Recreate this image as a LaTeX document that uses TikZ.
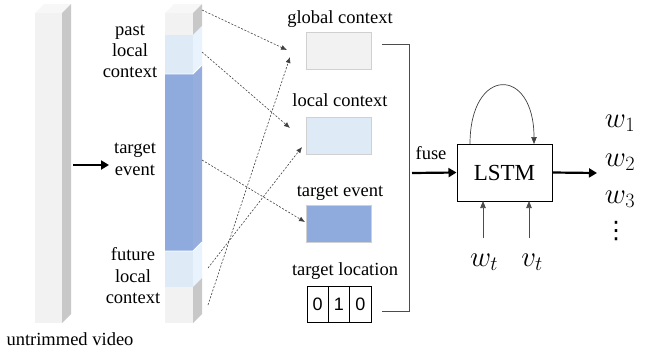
\RequirePackage{fix-cm}
\documentclass[tikz,border=0pt]{standalone}
\usepackage{fontspec}
\setmainfont{Liberation Serif}
\newfontfamily\serifface{Liberation Serif}
\newfontfamily\digitfont{Liberation Sans}
\newfontfamily\symbface{DejaVu Sans}
\usetikzlibrary{arrows.meta}
\definecolor{gfront}{HTML}{F2F2F2}
\definecolor{gtop}{HTML}{F7F7F7}
\definecolor{gside}{HTML}{C8C8C8}
\definecolor{lbfront}{HTML}{DEEBF7}
\definecolor{lbside}{HTML}{E9F3FD}
\definecolor{dbfront}{HTML}{8FAADC}
\definecolor{dbside}{HTML}{95AEDD}
\definecolor{edgegray}{HTML}{D0D0D0}
\tikzset{
  lbl/.style={font=\serifface\fontsize{18.5}{21}\selectfont, inner sep=0pt, anchor=base},
  featbox/.style={draw=edgegray, line width=0.4pt, minimum width=65pt, minimum height=37pt, inner sep=0pt},
  cell/.style={draw=black, line width=0.8pt, minimum width=21.33pt, minimum height=36pt, inner sep=0pt, font=\digitfont\fontsize{18}{21}\selectfont},
  dotarrow/.style={draw=black!75, line width=0.6pt, dash pattern=on 2pt off 1.6pt, -{Latex[length=6pt,width=5pt]}},
  thickarrow/.style={draw=black, line width=2.2pt, -{Triangle[length=8pt,width=9pt]}},
  thinarrow/.style={draw=black!70, line width=0.7pt, -{Triangle[length=7pt,width=5.5pt]}},
  brack/.style={draw=black!70, line width=0.8pt},
  mathlbl/.style={font=\fontsize{29}{32}\selectfont, inner sep=0pt},
}
\begin{document}
\begin{tikzpicture}[x=1pt,y=-1pt]
\useasboundingbox (0,0) rectangle (645,349);
% ---------- untrimmed video bar ----------
\fill[gtop] (35,13) -- (62,13) -- (71,4) -- (44,4) -- cycle;
\fill[gfront] (35,13) rectangle (62,323);
\fill[gside] (62,13) -- (71,4) -- (71,314) -- (62,323) -- cycle;
\node[lbl] (uv) at (70,345) {untrimmed video};
% ---------- segmented bar ----------
\fill[gtop] (165,13) -- (193,13) -- (202,4) -- (174,4) -- cycle;
\fill[gfront] (165,13) rectangle (193,35);
\fill[gside] (193,13) -- (202,4) -- (202,26) -- (193,35) -- cycle;
\fill[lbfront] (165,35) rectangle (193,74);
\fill[lbside] (193,35) -- (202,26) -- (202,65) -- (193,74) -- cycle;
\fill[dbfront] (165,74) rectangle (193,251);
\fill[dbside] (193,74) -- (202,65) -- (202,242) -- (193,251) -- cycle;
\fill[lbfront] (165,251) rectangle (193,287);
\fill[lbside] (193,251) -- (202,242) -- (202,278) -- (193,287) -- cycle;
\fill[gfront] (165,287) rectangle (193,323);
\fill[gside] (193,287) -- (202,278) -- (202,314) -- (193,323) -- cycle;
\draw[white, line width=0.8pt] (165,74) -- (193,74) -- (202,65);
\draw[white, line width=0.8pt] (165,251) -- (193,251) -- (202,242);
% labels of segments
\node[lbl] (p1) at (130,35) {past};
\node[lbl] (p2) at (130,56) {local};
\node[lbl] (p3) at (130,77) {context};
\node[lbl] (t1) at (135,153) {target};
\node[lbl] (t2) at (135,175) {event};
\node[lbl] (f1) at (133,260) {future};
\node[lbl] (f2) at (133,282) {local};
\node[lbl] (f3) at (133,303) {context};
% arrow from video to bar
\coordinate (va) at (73,165);
\coordinate (vb) at (109,165);
\draw[thickarrow] (va) -- (vb);
% ---------- feature boxes ----------
\node[featbox, fill=gfront] (glob) at (338.5,50.5) {};
\node[lbl] (globl) at (340,23) {global context};
\node[featbox, fill=lbfront] (loc) at (338.5,135.5) {};
\node[lbl] (locl) at (340,106) {local context};
\node[featbox, fill=dbfront] (tev) at (338.5,224) {};
\node[lbl] (tevl) at (340,196) {target event};
\node[cell] (c1) at (317.67,304) {0};
\node[cell] (c2) at (339,304) {1};
\node[cell] (c3) at (360.33,304) {0};
\node[lbl] (tlocl) at (345,275) {target location};
% ---------- dotted connectors ----------
\coordinate (s1) at (202,10);  \coordinate (e1) at (287,50);
\coordinate (s2) at (202,52);  \coordinate (e2) at (290,128);
\coordinate (s3) at (202,160); \coordinate (e3) at (305,222);
\coordinate (s4) at (208,268); \coordinate (e4) at (302,147);
\coordinate (s5) at (208,305); \coordinate (e5) at (290,57);
\draw[dotarrow] (s1) -- (e1);
\draw[dotarrow] (s2) -- (e2);
\draw[dotarrow] (s3) -- (e3);
\draw[dotarrow] (s4) -- (e4);
\draw[dotarrow] (s5) -- (e5);
% ---------- bracket ----------
\coordinate (b1) at (382,44);
\coordinate (b2) at (409,44);
\coordinate (b3) at (409,311);
\coordinate (b4) at (382,311);
\draw[brack] (b1) -- (b2) -- (b3) -- (b4);
% ---------- fuse + LSTM ----------
\coordinate (fa) at (412,173);
\node[draw=black, line width=1pt, minimum width=95pt, minimum height=57pt, inner sep=0pt,
      font=\serifface\fontsize{23}{27}\selectfont] (lstm) at (504.5,172.5) {LSTM};
\draw[thickarrow] (fa) -- (lstm.west);
\node[lbl] (fusel) at (431,159) {fuse};
\coordinate (la) at (470,144);
\coordinate (lb) at (534,144);
\draw[draw=black!75, line width=0.7pt, -{Triangle[length=7pt,width=5.5pt]}] (la) .. controls (470,66) and (534,66) .. (lb);
% inputs
\node[mathlbl] (wt) at (484,262) {$w_t$};
\node[mathlbl] (vt) at (532,262) {$v_t$};
\coordinate (wa) at (483,238);
\coordinate (wb) at (483,201);
\coordinate (vva) at (529,238);
\coordinate (vvb) at (529,201);
\draw[thinarrow] (wa) -- (wb);
\draw[thinarrow] (vva) -- (vvb);
% output
\coordinate (oa) at (597,173);
\draw[thickarrow] (lstm.east) -- (oa);
\node[mathlbl] (w1) at (620,123) {$w_1$};
\node[mathlbl] (w2) at (620,162) {$w_2$};
\node[mathlbl] (w3) at (620,199) {$w_3$};
\node[font=\symbface\fontsize{24}{26}\selectfont, inner sep=0pt] (vd) at (616,231) {⋮};
\end{tikzpicture}
\end{document}
